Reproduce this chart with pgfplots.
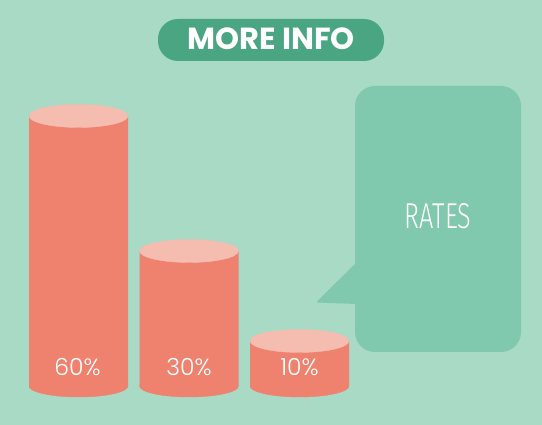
\documentclass[border=0pt]{standalone}
\usepackage{fontspec}
\usepackage{pgfplots}
\pgfplotsset{compat=1.18}
\newfontfamily\pop{Poppins}
\newfontfamily\poplight{Poppins Light}
\newfontfamily\firalight{Fira Sans Light}
\definecolor{bg}{HTML}{A8DAC6}
\definecolor{titlebox}{HTML}{4AA583}
\definecolor{bubble}{HTML}{80C8AE}
\definecolor{body}{HTML}{EE826E}
\definecolor{topc}{HTML}{F5BCB0}
\begin{document}
\begin{tikzpicture}[x=1pt,y=1pt]
\fill[bg] (0,0) rectangle (542,425);
% title box
\fill[titlebox, rounded corners=20pt] (158,364) rectangle (384,406);
\node[text=white, font=\pop\bfseries\fontsize{30.5}{32}\selectfont] at (271,386) {MORE INFO};
% speech bubble
\fill[bubble, rounded corners=20pt] (355,73) rectangle (521,339);
\fill[bubble, rounded corners=1.5pt] (357,163) -- (316,122.5) -- (357,121) -- cycle;
\node[text=white, xscale=0.7, font=\firalight\fontsize{36}{40}\selectfont] at (438,209) {RATES};
\begin{axis}[at={(0,0)}, anchor=south west, scale only axis,
  width=542pt, height=425pt,
  xmin=0, xmax=542, ymin=-8.6667, ymax=85.7778,
  axis lines=none, ticks=none, clip=false]
% bottom ellipses
\addplot[only marks, color=body, mark=*, mark size=11pt, mark options={xscale=4.5, fill=body, draw=body}]
  coordinates {(78.5,0) (189,0) (299.5,0)};
% bodies
\addplot[ybar, bar width=99pt, fill=body, draw=none]
  coordinates {(78.5,60) (189,30) (299.5,10)};
% tops
\addplot[only marks, color=topc, mark=*, mark size=11.5pt, mark options={xscale=4.3, fill=topc, draw=topc}]
  coordinates {(78.5,60) (189,30) (299.5,10)};
\end{axis}
\begin{scope}[every node/.style={text=white, font=\poplight\fontsize{23.5}{26}\selectfont}]
\node at (77.5,58) {60\%};
\node at (189,58) {30\%};
\node at (299.5,58) {10\%};
\end{scope}
\end{tikzpicture}
\end{document}
